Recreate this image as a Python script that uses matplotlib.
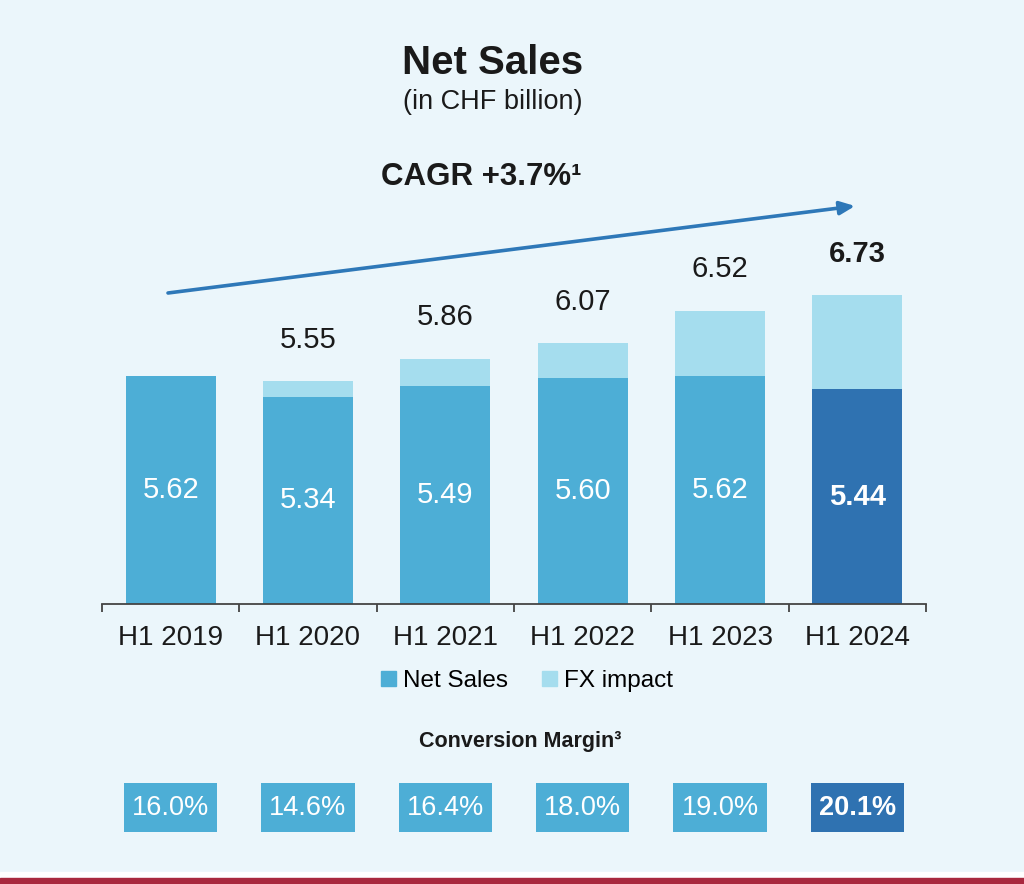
import matplotlib
matplotlib.use("Agg")
import matplotlib.pyplot as plt
from matplotlib.patches import Patch, Rectangle

plt.rcParams["font.family"] = ["Liberation Sans", "DejaVu Sans"]

# datos
periods = ["H1 2019", "H1 2020", "H1 2021", "H1 2022", "H1 2023", "H1 2024"]
net_sales = [5.62, 5.34, 5.49, 5.60, 5.62, 5.44]
totals = [5.62, 5.55, 5.86, 6.07, 6.52, 6.73]
total_labels = ["", "5.55", "5.86", "6.07", "6.52", "6.73"]
margins = ["16.0%", "14.6%", "16.4%", "18.0%", "19.0%", "20.1%"]

BG = "#ebf6fb"
C_NET = "#4daed6"
C_FX = "#a5ddee"
C_DARK = "#2f72b1"
C_TXT = "#1a1a1a"
Y0 = 2.5  # el eje no empieza en cero

fig = plt.figure(figsize=(10.24, 8.84), dpi=100)
fig.patch.set_facecolor(BG)

ax = fig.add_axes([0.0996, 0.3167, 0.8047, 0.4955])
ax.set_facecolor("none")
x = list(range(len(periods)))
fx = [t - n for t, n in zip(totals, net_sales)]
net_colors = [C_NET] * 5 + [C_DARK]

ax.bar(x, [n - Y0 for n in net_sales], bottom=Y0, width=0.655, color=net_colors)
ax.bar(x, fx, bottom=net_sales, width=0.655, color=C_FX)

for i in x:
    bold = i == len(x) - 1
    ax.text(i, (Y0 + net_sales[i]) / 2, f"{net_sales[i]:.2f}", ha="center", va="center",
            color="white", fontsize=21, fontweight="bold" if bold else "normal")
    if total_labels[i]:
        ax.text(i, totals[i] + 0.57, total_labels[i], ha="center", va="center",
                color=C_TXT, fontsize=21, fontweight="bold" if bold else "normal")

ax.set_xlim(-0.5, 5.5)
ax.set_ylim(Y0, 8.5)
for s in ["top", "right", "left"]:
    ax.spines[s].set_visible(False)
ax.spines["bottom"].set_color("#444444")
ax.spines["bottom"].set_linewidth(1.3)
ax.set_yticks([])
ax.set_xticks(x)
ax.set_xticklabels(periods, fontsize=20, color=C_TXT)
ax.tick_params(axis="x", which="major", length=0, pad=15)
ax.set_xticks([i - 0.5 for i in range(len(periods) + 1)], minor=True)
ax.tick_params(axis="x", which="minor", length=6, width=1.3, color="#444444")

# titulos
fig.text(0.481, 0.929, "Net Sales", ha="center", va="center", fontsize=29,
         fontweight="bold", color=C_TXT)
fig.text(0.481, 0.885, "(in CHF billion)", ha="center", va="center", fontsize=19.5,
         color=C_TXT)
fig.text(0.470, 0.800, "CAGR +3.7%¹", ha="center", va="center", fontsize=22.5,
         fontweight="bold", color=C_TXT)

# flecha CAGR
ax.annotate("", xy=(855 / 1024, 1 - 206 / 884), xycoords="figure fraction",
            xytext=(168 / 1024, 1 - 293 / 884), textcoords="figure fraction",
            arrowprops=dict(arrowstyle="-|>,head_length=0.9,head_width=0.4",
                            color="#2e78b8", lw=2.6, shrinkA=0, shrinkB=0))

# leyenda
handles = [Patch(color=C_NET, label="Net Sales"), Patch(color=C_FX, label="FX impact")]
fig.legend(handles=handles, loc="center", bbox_to_anchor=(0.515, 1 - 681 / 884), ncol=2,
           frameon=False, fontsize=17.5, handlelength=0.6, handleheight=0.6,
           handletextpad=0.3, columnspacing=1.4)

# conversion margin
fig.text(0.508, 1 - 741 / 884, "Conversion Margin³", ha="center", va="center",
         fontsize=15.5, fontweight="bold", color=C_TXT)
ax2 = fig.add_axes([0.0996, 0.0588, 0.8047, 0.0554])
ax2.set_facecolor("none")
ax2.bar(x, [1] * len(x), width=0.68, color=net_colors)
for i in x:
    bold = i == len(x) - 1
    ax2.text(i, 0.5, margins[i], ha="center", va="center", color="white",
             fontsize=19.5, fontweight="bold" if bold else "normal")
ax2.set_xlim(-0.5, 5.5)
ax2.set_ylim(0, 1)
ax2.axis("off")

# franja inferior
fig.patches.append(Rectangle((0, 0), 1, 12 / 884, transform=fig.transFigure,
                             color="white", zorder=0))
fig.patches.append(Rectangle((0, 0), 1, 6 / 884, transform=fig.transFigure,
                             color="#a8283e", zorder=1))

fig.savefig("out.png", dpi=100, facecolor=fig.get_facecolor())
